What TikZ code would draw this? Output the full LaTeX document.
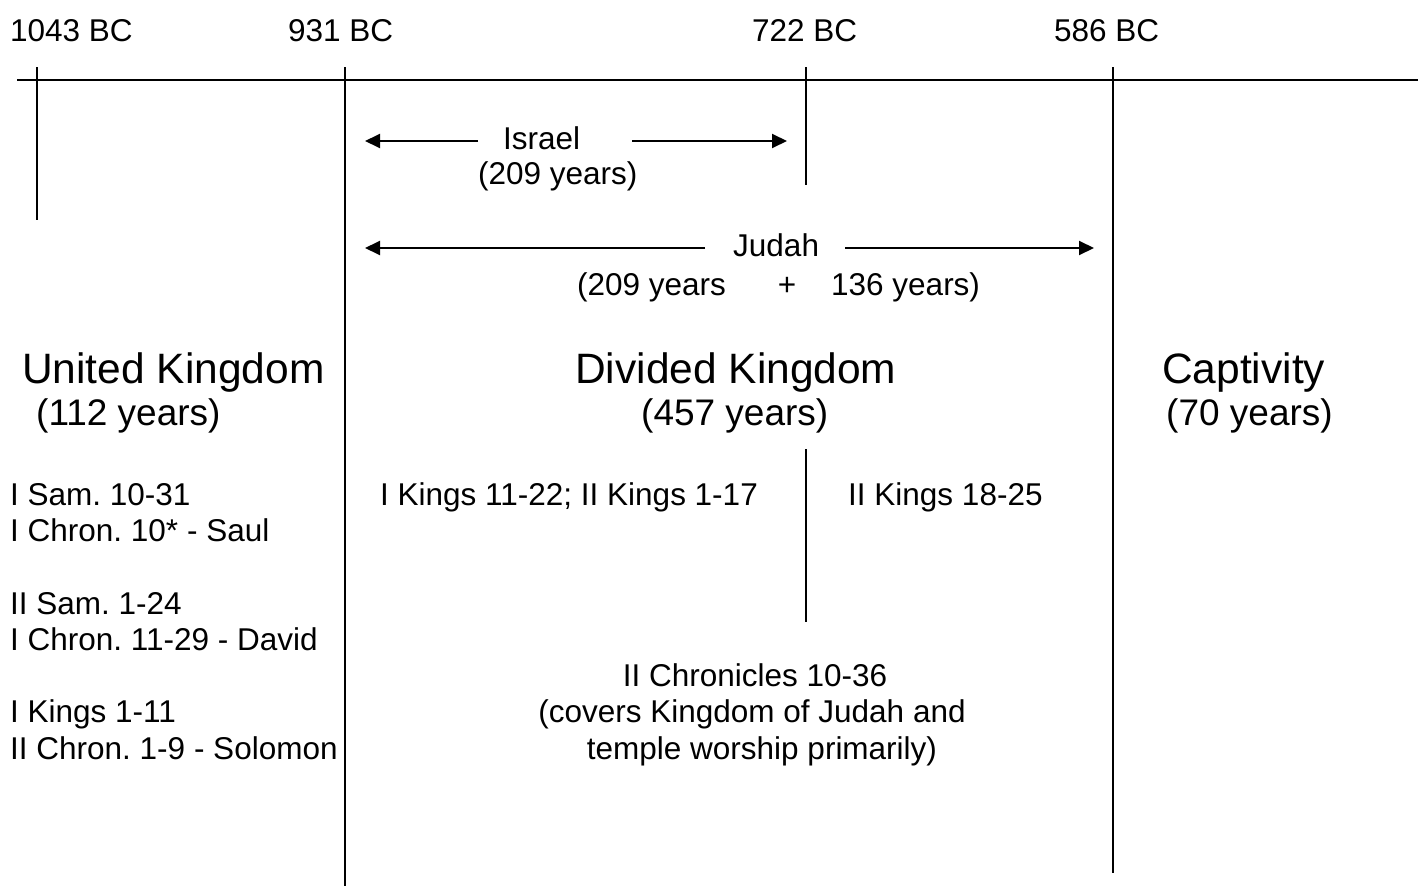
\documentclass[tikz,border=0pt]{standalone}
\usepackage{fontspec}
\setmainfont{Liberation Sans}
\usetikzlibrary{arrows.meta}
\frenchspacing
\begin{document}
\begin{tikzpicture}[x=1pt,y=-1pt,
  lbl/.style={inner sep=0pt, anchor=base west, font=\fontsize{31.5}{36}\selectfont},
  lblc/.style={inner sep=0pt, anchor=base, font=\fontsize{31.5}{36}\selectfont},
  big/.style={inner sep=0pt, anchor=base west, font=\fontsize{42.5}{48}\selectfont},
  mid/.style={inner sep=0pt, anchor=base west, font=\fontsize{37}{42}\selectfont},
  rulel/.style={line width=1.9pt},
  arr/.style={line width=1.9pt, -{Triangle[length=15pt,width=14pt]}}]
\useasboundingbox (0,0) rectangle (1418,886);

% year labels
\node[lbl] (y1043) at (10,41) {1043 BC};
\node[lbl] (y931) at (288,41) {931 BC};
\node[lbl] (y722) at (752,41) {722 BC};
\node[lbl] (y586) at (1054,41) {586 BC};

% timeline
\coordinate (tlL) at (17,80);
\coordinate (tlR) at (1418,80);
\draw[rulel] (tlL) -- (tlR);

\coordinate (v1t) at (37,67);   \coordinate (v1b) at (37,220);
\coordinate (v2t) at (345,67);  \coordinate (v2b) at (345,886);
\coordinate (v3t) at (806,67);  \coordinate (v3b) at (806,185);
\coordinate (v4t) at (1113,67); \coordinate (v4b) at (1113,873);
\coordinate (v5t) at (806,449); \coordinate (v5b) at (806,622);
\draw[rulel] (v1t) -- (v1b);
\draw[rulel] (v2t) -- (v2b);
\draw[rulel] (v3t) -- (v3b);
\draw[rulel] (v4t) -- (v4b);
\draw[rulel] (v5t) -- (v5b);

% Israel
\node[lbl] (israel) at (503,149) {Israel};
\node[lbl] (israelyr) at (478,184) {(209 years)};
\coordinate (isLs) at (478,141); \coordinate (isLe) at (365,141);
\coordinate (isRs) at (632,141); \coordinate (isRe) at (787,141);
\draw[arr] (isLs) -- (isLe);
\draw[arr] (isRs) -- (isRe);

% Judah
\node[lbl] (judah) at (733,256) {Judah};
\node[lbl] (judyr1) at (577,295) {(209 years};
\node[lblc] (plus) at (787,295) {+};
\node[lbl] (judyr2) at (831,295) {136 years)};
\coordinate (juLs) at (705,248); \coordinate (juLe) at (365,248);
\coordinate (juRs) at (845,248); \coordinate (juRe) at (1094,248);
\draw[arr] (juLs) -- (juLe);
\draw[arr] (juRs) -- (juRe);

% period titles
\node[big] (united) at (22,383) {United Kingdom};
\node[mid] (unitedyr) at (36,425) {(112 years)};
\node[big] (divided) at (575,383) {Divided Kingdom};
\node[mid] (dividedyr) at (641,425) {(457 years)};
\node[big] (capt) at (1162,383) {Captivity};
\node[mid] (captyr) at (1166,425) {(70 years)};

% left list
\node[lbl] (l1) at (10,505) {I Sam. 10-31};
\node[lbl] (l2) at (10,541) {I Chron. 10* - Saul};
\node[lbl] (l3) at (10,614) {II Sam. 1-24};
\node[lbl] (l4) at (10,650) {I Chron. 11-29 - David};
\node[lbl] (l5) at (10,722) {I Kings 1-11};
\node[lbl] (l6) at (10,759) {II Chron. 1-9 - Solomon};

% middle
\node[lbl] (kings1) at (380,505) {I Kings 11-22; II Kings 1-17};
\node[lbl] (kings2) at (848,505) {II Kings 18-25};
\node[lblc] (chr1) at (755,686) {II Chronicles 10-36};
\node[lblc] (chr2) at (752,722) {(covers Kingdom of Judah and};
\node[lblc] (chr3) at (762,759) {temple worship primarily)};
\end{tikzpicture}
\end{document}
